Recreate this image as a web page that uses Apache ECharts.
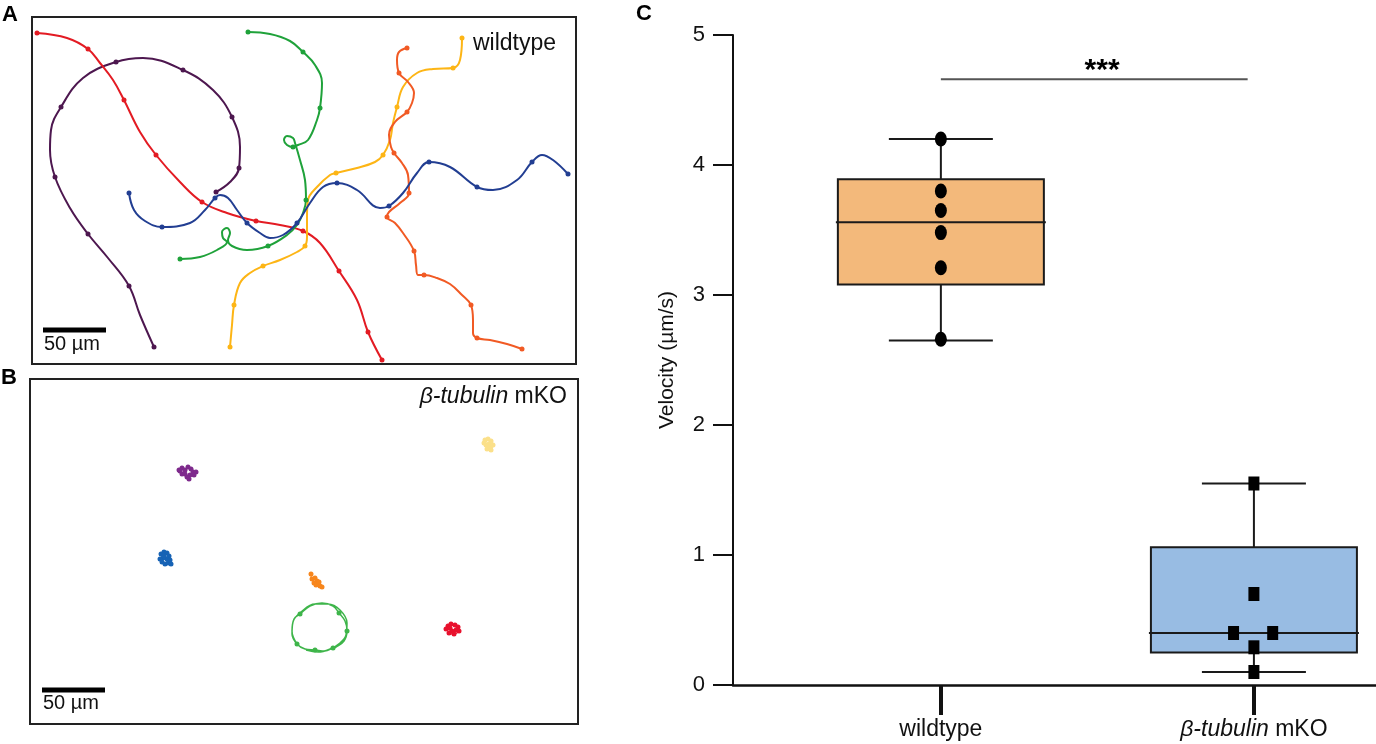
<!DOCTYPE html>
<html>
<head>
<meta charset="utf-8">
<script src="https://cdn.jsdelivr.net/npm/echarts@6/dist/echarts.min.js"></script>
<style>html,body{margin:0;padding:0;background:#fff}#chart{width:1376px;height:744px}</style>
</head>
<body>
<div id="chart"></div>
<script>
// panel A tracks (frame units, 63 units = 50 µm), third value 1 = frame dot
var wtRed = [[5,16,1],[35,21],[56,32,1],[68,46],[81,63],[92,83,1],[108,115],[124,138,1],[148,165],[170,185,1],[195,196],[224,204,1],[248,208],[271,214,1],[288,226],[307,254,1],[325,283],[336,315,1],[350,343,1]];
var wtPurple = [[122,330,1],[108,298],[97,269,1],[76,241],[56,217,1],[38,191],[23,160,1],[18,133],[19,113],[29,90,1],[51,61],[84,45,1],[111,41],[151,53,1],[181,73],[200,100,1],[208,130],[207,151,1],[198,165],[184,175,1]];
var wtBlue = [[97,176,1],[102,193],[113,204],[130,210,1],[158,206],[173,193],[183,181,1],[188,178],[196,181],[205,193],[215,206,1],[228,216],[238,221],[251,218],[265,206,1],[278,186],[291,170],[305,166,1],[325,173],[348,191],[357,189,1],[371,176],[385,156],[397,145,1],[418,150],[445,170,1],[461,173],[485,163],[500,145,1],[510,138],[521,143],[536,157,1]];
var wtGreen = [[148,242,1],[168,240],[185,233],[195,225],[191,221],[190,215],[195,211],[198,216],[196,223],[200,229],[215,233],[236,229,1],[255,218],[265,208],[271,196],[274,183,1],[273,163],[268,143],[263,126],[261,121],[255,119],[252,123],[255,128],[261,130,1],[266,128],[276,123],[285,103],[288,91,1],[290,66],[283,48],[271,35,1],[258,24],[238,17],[216,15,1]];
var wtYellow = [[198,330,1],[200,308],[202,288,1],[208,266],[218,256],[231,249,1],[248,243],[265,235],[273,229,1],[275,220],[275,200],[276,183],[285,170],[298,158],[304,156,1],[325,151],[343,145],[351,138,1],[358,123],[361,106],[365,90,1],[371,70],[385,56],[401,52],[421,51,1],[428,43],[430,21,1]];
var wtOrange = [[375,31,1],[367,35],[365,43],[367,56,1],[376,65],[382,76],[380,86],[375,95,1],[363,105],[357,118],[359,130],[362,136,1],[370,146],[376,158],[377,176,1],[368,186],[357,195],[355,200,1],[363,206],[371,216],[382,234,1],[384,248],[386,258],[392,258,1],[405,261],[418,267],[430,278],[439,288,1],[441,303],[441,316],[445,321,1],[458,323],[475,327],[490,332,1]];

// panel B tracks (frame units)
var koPurple = [[149,91],[152,89],[155,91],[158,88],[161,90],[163,93],[166,93],[164,96],[160,96],[157,98],[159,100],[155,95],[152,95],[150,92]];
var koBlue = [[131,175],[134,173],[137,174],[139,177],[137,180],[133,179],[130,180],[132,183],[135,185],[138,184],[141,185],[140,181],[134,177]];
var koOrange = [[281,195],[282,200],[285,199],[287,202],[284,204],[288,205],[290,207],[292,208],[286,206],[289,203]];
var koYellow = [[455,61],[458,60],[461,62],[459,65],[456,66],[460,68],[457,70],[461,71],[463,66],[454,64]];
var koRed = [[418,247],[421,245],[425,246],[428,248],[426,251],[422,252],[419,254],[424,255],[429,252],[416,250],[420,249]];
var koGreen = [[267,265,1],[262,252],[264,240],[270,235,1],[280,227],[292,224],[303,227],[309,234,1],[315,242],[317,252,1],[314,262],[306,268],[303,269,1],[295,272],[285,271,1],[275,270],[267,265],[262,255],[263,243],[271,233],[285,225],[298,225],[310,231],[317,244],[316,256],[310,264],[300,270],[288,273],[276,271]];

// panel C: velocity (µm/s)
var groups = ['wildtype', '{i|β-tubulin} mKO'];
var boxStats = [[0, 2.65, 3.08, 3.56, 3.89, 4.20], [1, 0.10, 0.25, 0.40, 1.06, 1.55]]; // x, min, Q1, median, Q3, max
var wtPoints = [[0, 4.20], [0, 3.80], [0, 3.65], [0, 3.48], [0, 3.21], [0, 2.66]];
var koPoints = [[1, 1.55], [1, 0.70], [0.935, 0.40], [1.06, 0.40], [1, 0.29], [1, 0.10]];
var sigLine = [[0, 4.66], [0.98, 4.66]];
var yTicks = [0, 1, 2, 3, 4, 5];

var boxColors = ['#F3B97B', '#98BCE3'];
var FONT = 'Liberation Sans, Arial, sans-serif';

function track(pts, color, gi, width, dotAll) {
	return [{
		type: 'line', xAxisIndex: gi, yAxisIndex: gi, smooth: 0.4, symbol: 'none', z: 2,
		data: pts.map(function (p) { return [p[0], p[1]]; }),
		lineStyle: { color: color, width: width }
	}, {
		type: 'scatter', xAxisIndex: gi, yAxisIndex: gi, symbolSize: 5, z: 3,
		data: pts.filter(function (p) { return dotAll || p[2]; }).map(function (p) { return [p[0], p[1]]; }),
		itemStyle: { color: color, opacity: 1 }
	}];
}

function scaleBar(gi, x0, x1, y) {
	return { type: 'line', xAxisIndex: gi, yAxisIndex: gi, symbol: 'none', data: [[x0, y], [x1, y]], lineStyle: { color: '#000', width: 5 }, z: 4 };
}

function renderBox(params, api) {
	var x = api.value(0);
	var lo = api.coord([x, api.value(1)]), q1 = api.coord([x, api.value(2)]), md = api.coord([x, api.value(3)]);
	var q3 = api.coord([x, api.value(4)]), hi = api.coord([x, api.value(5)]);
	var half = 103, cap = 52, cx = q1[0];
	var st = { stroke: '#1a1a1a', lineWidth: 2 };
	return {
		type: 'group', children: [
			{ type: 'line', shape: { x1: cx, y1: hi[1], x2: cx, y2: q3[1] }, style: st },
			{ type: 'line', shape: { x1: cx, y1: lo[1], x2: cx, y2: q1[1] }, style: st },
			{ type: 'line', shape: { x1: cx - cap, y1: hi[1], x2: cx + cap, y2: hi[1] }, style: st },
			{ type: 'line', shape: { x1: cx - cap, y1: lo[1], x2: cx + cap, y2: lo[1] }, style: st },
			{ type: 'rect', shape: { x: cx - half, y: q3[1], width: half * 2, height: q1[1] - q3[1] }, style: { fill: boxColors[params.dataIndex], stroke: '#1a1a1a', lineWidth: 2 } },
			{ type: 'line', shape: { x1: cx - half - 2, y1: md[1], x2: cx + half + 2, y2: md[1] }, style: st }
		]
	};
}

var hidden = { show: false };
function frameAxis(gi, max, inverse) {
	return { type: 'value', gridIndex: gi, min: 0, max: max, inverse: inverse, axisLine: hidden, axisTick: hidden, axisLabel: hidden, splitLine: hidden };
}

var series = [].concat(
	track(wtPurple, '#4D174F', 0, 2, false),
	track(wtRed, '#E31B23', 0, 2, false),
	track(wtGreen, '#1FA23A', 0, 2, false),
	track(wtYellow, '#FDB515', 0, 2, false),
	track(wtOrange, '#F15A24', 0, 2, false),
	track(wtBlue, '#223E92', 0, 2, false),
	[scaleBar(0, 11, 74, 313)],
	track(koPurple, '#7E2A8C', 1, 1.2, true),
	track(koBlue, '#1763B5', 1, 1.2, true),
	track(koOrange, '#F7861C', 1, 1.2, true),
	track(koYellow, '#FBE08A', 1, 1.2, true),
	track(koRed, '#E8112D', 1, 1.2, true),
	track(koGreen, '#3EB54A', 1, 1.5, false),
	[scaleBar(1, 12, 75, 311)],
	[{
		type: 'custom', xAxisIndex: 2, yAxisIndex: 2, renderItem: renderBox, data: boxStats,
		encode: { x: 0, y: [1, 2, 3, 4, 5] }, z: 2
	}, {
		type: 'scatter', xAxisIndex: 2, yAxisIndex: 2, data: wtPoints, symbol: 'circle', symbolSize: [12, 15], itemStyle: { color: '#000', opacity: 1 }, z: 5
	}, {
		type: 'scatter', xAxisIndex: 2, yAxisIndex: 2, data: koPoints, symbol: 'rect', symbolSize: [11, 14], itemStyle: { color: '#000', opacity: 1 }, z: 5
	}, {
		type: 'line', xAxisIndex: 2, yAxisIndex: 2, data: sigLine, symbol: 'none', lineStyle: { color: '#555', width: 2 }, z: 4
	}, {
		type: 'scatter', xAxisIndex: 2, yAxisIndex: 2, data: [[0.515, 4.66]], symbolSize: 0, itemStyle: { opacity: 1 },
		label: { show: true, formatter: '***', position: 'top', distance: -7, fontSize: 30, fontWeight: 'bold', color: '#000', fontFamily: FONT }, z: 5
	}]
);

var chart = echarts.init(document.getElementById('chart'));
chart.setOption({
	animation: false,
	backgroundColor: '#fff',
	grid: [
		{ left: 32, top: 17, width: 544, height: 347, show: true, borderColor: '#222', borderWidth: 2 },
		{ left: 30, top: 379, width: 548, height: 345, show: true, borderColor: '#222', borderWidth: 2 },
		{ left: 733, top: 35, right: 0, height: 650 }
	],
	xAxis: [
		frameAxis(0, 544, false),
		frameAxis(1, 548, false),
		{
			type: 'value', gridIndex: 2, min: -0.664, max: 1.39, splitLine: hidden,
			axisLine: { onZero: false, lineStyle: { color: '#111', width: 2.5 } },
			axisTick: { show: true, customValues: [0, 1], inside: false, length: 30, lineStyle: { color: '#111', width: 4 } },
			axisLabel: {
				customValues: [0, 1], margin: 33, fontSize: 23, color: '#111', fontFamily: FONT,
				formatter: function (v) { return groups[Math.round(v)]; },
				rich: { i: { fontStyle: 'italic', fontSize: 23, color: '#111', fontFamily: FONT } }
			}
		}
	],
	yAxis: [
		frameAxis(0, 347, true),
		frameAxis(1, 345, true),
		{
			type: 'value', gridIndex: 2, min: 0, max: 5, interval: 1, splitLine: hidden,
			name: 'Velocity (µm/s)', nameLocation: 'middle', nameGap: 55,
			nameTextStyle: { fontSize: 21, color: '#111', fontFamily: FONT },
			axisLine: { show: true, onZero: false, lineStyle: { color: '#111', width: 2 } },
			axisTick: { show: true, length: 20, lineStyle: { color: '#111', width: 2 } },
			axisLabel: { margin: 28, fontSize: 22, color: '#111', fontFamily: FONT, formatter: function (v) { return yTicks.indexOf(v) >= 0 ? String(v) : ''; } }
		}
	],
	graphic: [
		{ type: 'text', left: 2, top: 4, style: { text: 'A', font: 'bold 22px ' + FONT, fill: '#000' } },
		{ type: 'text', left: 1, top: 367, style: { text: 'B', font: 'bold 22px ' + FONT, fill: '#000' } },
		{ type: 'text', left: 636, top: 3, style: { text: 'C', font: 'bold 22px ' + FONT, fill: '#000' } },
		{ type: 'text', left: 473, top: 32, style: { text: 'wildtype', font: '23px ' + FONT, fill: '#111' } },
		{ type: 'text', right: 809, top: 385, style: { text: '{i|β-tubulin} mKO', font: '23px ' + FONT, fill: '#111', rich: { i: { fontStyle: 'italic', fontSize: 23, fontFamily: FONT } } } },
		{ type: 'text', left: 44, top: 334, style: { text: '50 µm', font: '20px ' + FONT, fill: '#111' } },
		{ type: 'text', left: 43, top: 693, style: { text: '50 µm', font: '20px ' + FONT, fill: '#111' } }
	],
	series: series
});
</script>
</body>
</html>
